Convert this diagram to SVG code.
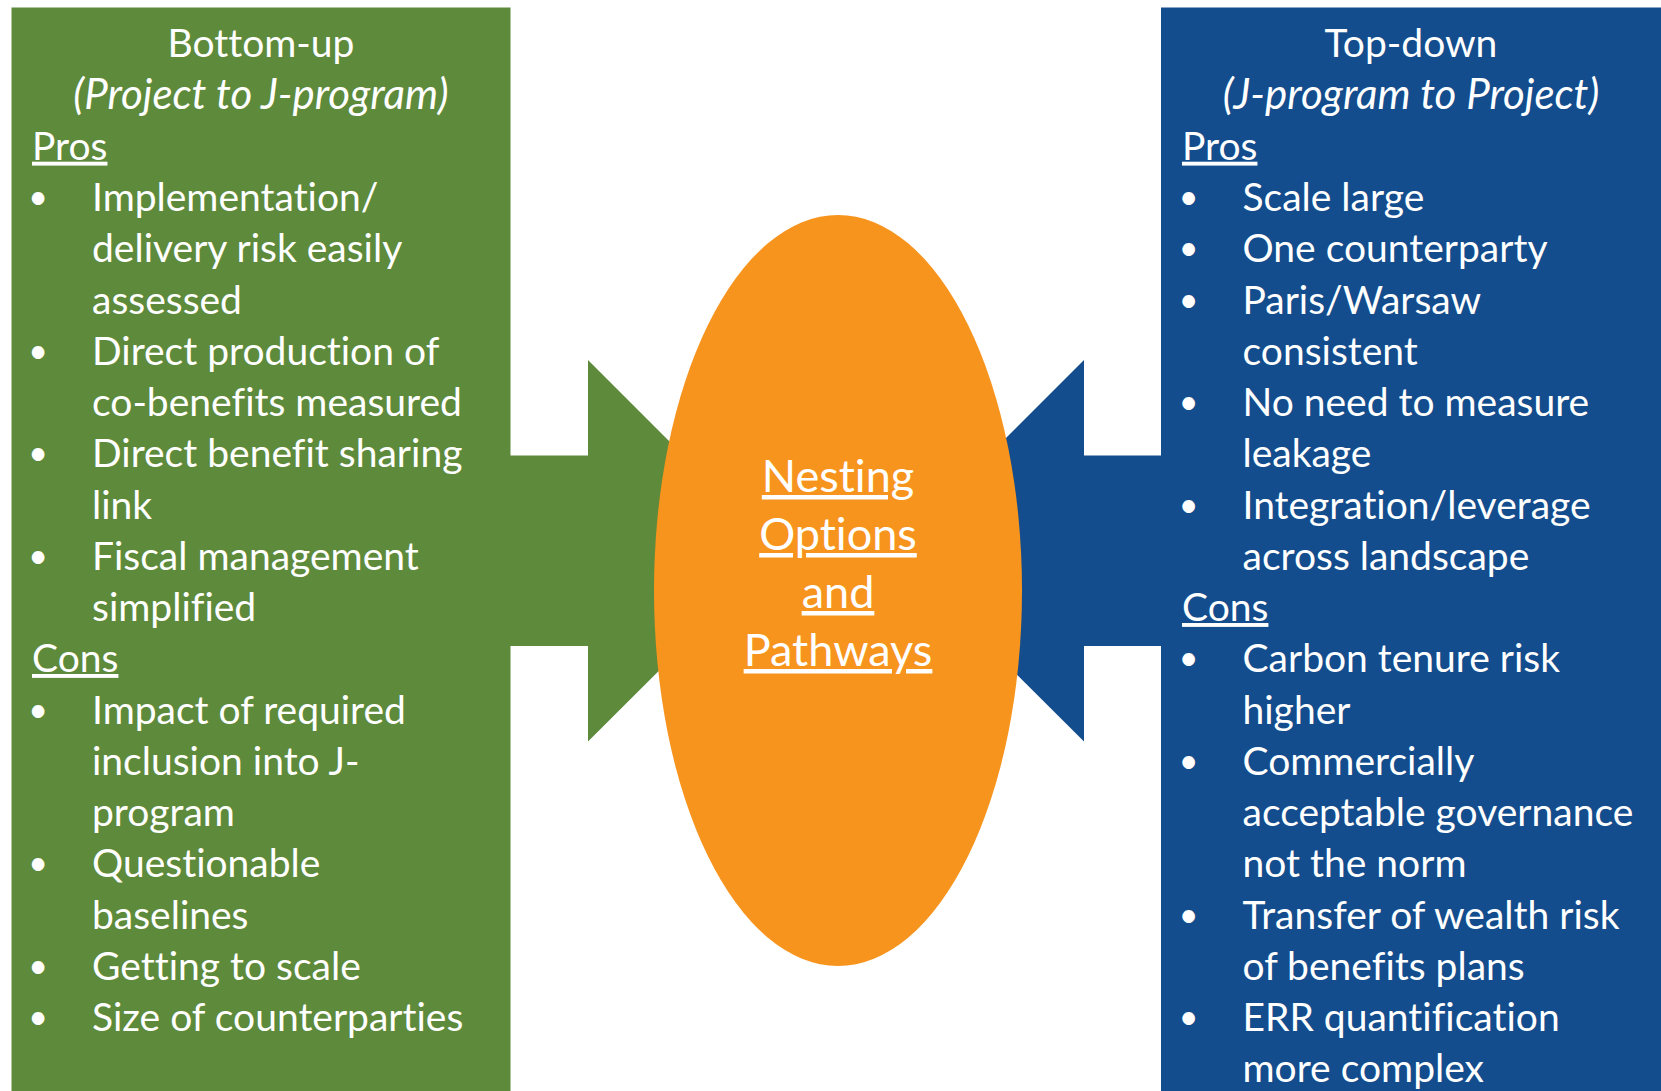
<svg xmlns="http://www.w3.org/2000/svg" width="1661" height="1091" viewBox="0 0 1661 1091">
  <style>
    text { font-family: Lato, "Open Sans", "Liberation Sans", sans-serif; fill: #ffffff; font-variant-ligatures: none; }
    .t { font-size: 39px; }
    .c { text-anchor: middle; }
    .i { font-style: italic; font-size: 42px; }
    .u { text-decoration: underline; }
    .b { font-size: 34px; text-anchor: middle; }
    .mid { font-size: 45px; text-anchor: middle; text-decoration: underline; }
    .green { fill: #5e8a3b; }
    .blue { fill: #134d8d; }
    .orange { fill: #f7941e; }
  </style>

  <rect width="1661" height="1091" fill="#ffffff"/>

  <!-- block arrows pointing into the central ellipse -->
  <g id="connectors">
    <polygon class="green" points="505,455.5 588,455.5 588,360 779,551 588,741.5 588,646 505,646"/>
    <polygon class="blue" points="1166,455.5 1084,455.5 1084,360 893,551 1084,741.5 1084,646 1166,646"/>
  </g>

  <!-- left panel -->
  <g id="bottom-up">
    <rect class="green" x="11.5" y="7.5" width="499" height="1090"/>
    <text class="t c" x="261" y="57">Bottom-up</text>
    <text class="t c i" x="261" y="108.5">(Project to J-program)</text>
    <text class="t u" x="32" y="159.7">Pros</text>
    <g class="t">
      <text class="b" x="38" y="209">•</text>
      <text x="92" y="211">Implementation/</text>
      <text x="92" y="262">delivery risk easily</text>
      <text x="92" y="313.5">assessed</text>
      <text class="b" x="38" y="362.7">•</text>
      <text x="92" y="364.7">Direct production of</text>
      <text x="92" y="416">co-benefits measured</text>
      <text class="b" x="38" y="465">•</text>
      <text x="92" y="467">Direct benefit sharing</text>
      <text x="92" y="518.5">link</text>
      <text class="b" x="38" y="567.7">•</text>
      <text x="92" y="569.7">Fiscal management</text>
      <text x="92" y="621">simplified</text>
    </g>
    <text class="t u" x="32" y="672">Cons</text>
    <g class="t">
      <text class="b" x="38" y="721.5">•</text>
      <text x="92" y="723.5">Impact of required</text>
      <text x="92" y="774.7">inclusion into J-</text>
      <text x="92" y="826">program</text>
      <text class="b" x="38" y="875">•</text>
      <text x="92" y="877">Questionable</text>
      <text x="92" y="928.5">baselines</text>
      <text class="b" x="38" y="977.7">•</text>
      <text x="92" y="979.7">Getting to scale</text>
      <text class="b" x="38" y="1029">•</text>
      <text x="92" y="1031">Size of counterparties</text>
    </g>
  </g>

  <!-- right panel -->
  <g id="top-down">
    <rect class="blue" x="1161" y="7.5" width="510" height="1090"/>
    <text class="t c" x="1411" y="57">Top-down</text>
    <text class="t c i" x="1411" y="108.5">(J-program to Project)</text>
    <text class="t u" x="1182" y="159.7">Pros</text>
    <g class="t">
      <text class="b" x="1188.5" y="209">•</text>
      <text x="1242.5" y="211">Scale large</text>
      <text class="b" x="1188.5" y="260">•</text>
      <text x="1242.5" y="262">One counterparty</text>
      <text class="b" x="1188.5" y="311.5">•</text>
      <text x="1242.5" y="313.5">Paris/Warsaw</text>
      <text x="1242.5" y="364.7">consistent</text>
      <text class="b" x="1188.5" y="414">•</text>
      <text x="1242.5" y="416">No need to measure</text>
      <text x="1242.5" y="467">leakage</text>
      <text class="b" x="1188.5" y="516.5">•</text>
      <text x="1242.5" y="518.5">Integration/leverage</text>
      <text x="1242.5" y="569.7">across landscape</text>
    </g>
    <text class="t u" x="1182" y="621">Cons</text>
    <g class="t">
      <text class="b" x="1188.5" y="670">•</text>
      <text x="1242.5" y="672">Carbon tenure risk</text>
      <text x="1242.5" y="723.5">higher</text>
      <text class="b" x="1188.5" y="772.7">•</text>
      <text x="1242.5" y="774.7">Commercially</text>
      <text x="1242.5" y="826">acceptable governance</text>
      <text x="1242.5" y="877">not the norm</text>
      <text class="b" x="1188.5" y="926.5">•</text>
      <text x="1242.5" y="928.5">Transfer of wealth risk</text>
      <text x="1242.5" y="979.7">of benefits plans</text>
      <text class="b" x="1188.5" y="1029">•</text>
      <text x="1242.5" y="1031">ERR quantification</text>
      <text x="1242.5" y="1082">more complex</text>
    </g>
  </g>

  <!-- central ellipse -->
  <g id="nesting">
    <ellipse class="orange" cx="838" cy="590.5" rx="184" ry="375.5"/>
    <text class="mid" x="838" y="492">Nesting</text>
    <text class="mid" x="838" y="550">Options</text>
    <text class="mid" x="838" y="608">and</text>
    <text class="mid" x="838" y="666">Pathways</text>
  </g>
</svg>
